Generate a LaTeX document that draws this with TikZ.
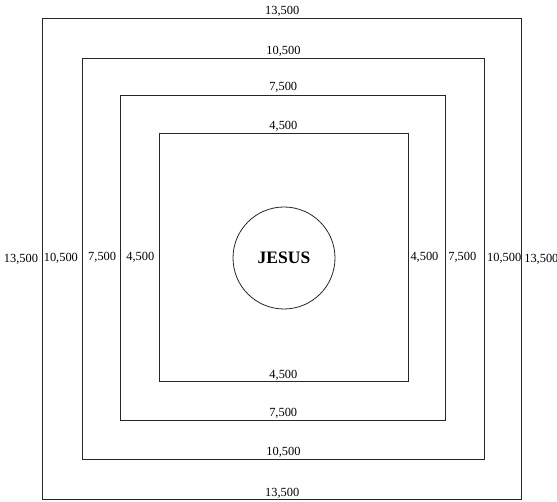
\documentclass[tikz,border=0pt]{standalone}
\usepackage{fontspec}
\setmainfont{Liberation Serif}
\begin{document}
\begin{tikzpicture}[x=1pt,y=1pt,
  sq/.style={draw=black!85, line width=0.8pt, rectangle, inner sep=0pt},
  lab/.style={font=\fontsize{12.4}{14}\selectfont, inner sep=1.5pt},
  ring/.style={draw=black!85, line width=0.8pt, circle, inner sep=0pt, minimum size=102pt,
     font=\bfseries\fontsize{17.5}{20}\selectfont}]
\useasboundingbox (0,0) rectangle (557,501);
\node[sq, minimum width=479pt, minimum height=481pt] (s1) at (282.2,241.7) {};
\node[sq, minimum width=402pt, minimum height=401pt] (s2) at (283.5,242.3) {};
\node[sq, minimum width=325pt, minimum height=325pt] (s3) at (283.2,243.5) {};
\node[sq, minimum width=249pt, minimum height=248pt] (s4) at (283.4,243.3) {};
\node[ring] (c) at (284,243) {JESUS};
\foreach \n/\t in {s1/{13,500}, s2/{10,500}, s3/{7,500}, s4/{4,500}}{
  \node[lab, anchor=south] (\n t) at (\n.north) {\t};
  \node[lab, anchor=south] (\n b) at (\n.south) {\t};
  \node[lab, anchor=east, xshift=-2.5pt] (\n l) at (\n.west) {\t};
  \node[lab, anchor=west, xshift=0.5pt] (\n r) at (\n.east) {\t};
}
\end{tikzpicture}
\end{document}
